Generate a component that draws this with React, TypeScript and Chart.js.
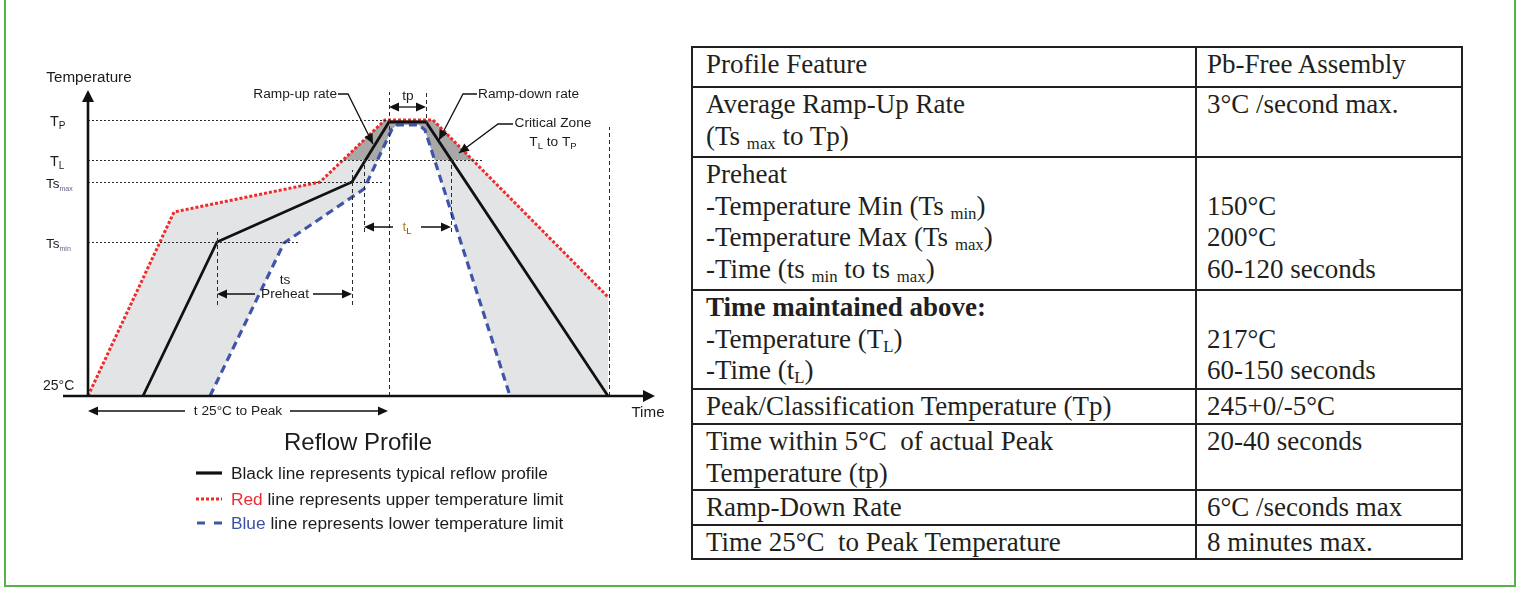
import React, { useEffect, useRef } from 'react';
import { Chart, registerables } from 'chart.js';

Chart.register(...registerables);

// ---------- diagram data (x: time units from profile start, y: temperature level units above 25°C) ----------
const typicalTime = [55, 129, 264, 301, 338, 520];
const typicalTemp = [0, 154, 214, 274, 274, 0];
const upperTime = [0, 86, 232, 297, 345, 520];
const upperTemp = [0, 184, 214, 276, 276, 99];
const lowerTime = [122, 196, 276, 304, 309, 331, 337, 422];
const lowerTemp = [0, 153, 207, 267, 271, 271, 266, 0];

// temperature levels shown on the y axis
const levelLabels = ['25°C', 'Ts', 'Ts', 'T', 'T'];
const levelSubs = ['', 'min', 'max', 'L', 'P'];
const levelTemps = [0, 154, 214, 236, 276];
const levelGuideEnds = [0, 210, 295, 394, 299];

// vertical guide lines (time, from level, to level)
const guideTimes = [129, 264, 276, 301, 338, 363, 521];
const guideFrom = [91, 91, 164, 0, 271, 164, 0];
const guideTo = [164, 226, 236, 304, 304, 236, 269];

// time spans
const preheatSpan = [129, 264];
const liquidusSpan = [276, 363];
const peakSpan = [301, 338];
const toPeakSpan = [0, 300];

const xAxisTitle = 'Time';
const yAxisTitle = 'Temperature';
const chartTitle = 'Reflow Profile';
const legendLead = ['', 'Red', 'Blue'];
const legendRest = [
  'Black line represents typical reflow profile',
  ' line represents upper temperature limit',
  ' line represents lower temperature limit',
];

// ---------- table data ----------
const featureRows = [
  ['Profile Feature'],
  ['Average Ramp-Up Rate', '(Ts _{max} to Tp)'],
  ['Preheat', '-Temperature Min (Ts _{min})', '-Temperature Max (Ts _{max})', '-Time (ts _{min} to ts _{max})'],
  ['Time maintained above:', '-Temperature (T_{L})', '-Time (t_{L})'],
  ['Peak/Classification Temperature (Tp)'],
  ['Time within 5°C  of actual Peak', 'Temperature (tp)'],
  ['Ramp-Down Rate'],
  ['Time 25°C  to Peak Temperature'],
];
const assemblyRows = [
  ['Pb-Free Assembly'],
  ['3°C /second max.'],
  ['', '150°C', '200°C', '60-120 seconds'],
  ['', '217°C', '60-150 seconds'],
  ['245+0/-5°C'],
  ['20-40 seconds'],
  ['6°C /seconds max'],
  ['8 minutes max.'],
];
const boldLines = ['Time maintained above:'];

// ---------- layout ----------
const ROW_HEIGHTS = [40, 70, 133, 99, 35, 66, 34, 34];
const INK = '#1c1c1c';
const SANS = '"Liberation Sans", Arial, sans-serif';
const SERIF = '"Liberation Serif", "Times New Roman", serif';

type Pt = { x: number; y: number };
const toPts = (xs: number[], ys: number[]): Pt[] => xs.map((x, i) => ({ x, y: ys[i] }));

function clipAbove(poly: Pt[], level: number): Pt[] {
  const out: Pt[] = [];
  for (let i = 0; i < poly.length; i++) {
    const a = poly[i];
    const b = poly[(i + 1) % poly.length];
    const ina = a.y >= level;
    const inb = b.y >= level;
    if (ina) out.push(a);
    if (ina !== inb) {
      const t = (level - a.y) / (b.y - a.y);
      out.push({ x: a.x + t * (b.x - a.x), y: level });
    }
  }
  if (out.length) out.push(out[0]);
  return out;
}

function head(ctx: CanvasRenderingContext2D, tx: number, ty: number, dx: number, dy: number, len: number, half: number) {
  const m = Math.hypot(dx, dy);
  const ux = dx / m, uy = dy / m;
  const bx = tx - ux * len, by = ty - uy * len;
  ctx.beginPath();
  ctx.moveTo(tx, ty);
  ctx.lineTo(bx - uy * half, by + ux * half);
  ctx.lineTo(bx + uy * half, by - ux * half);
  ctx.closePath();
  ctx.fill();
}

type Run = { t: string; sub?: boolean; color?: string };

function runs(ctx: CanvasRenderingContext2D, list: Run[], x: number, y: number, size: number, align: 'left' | 'center' | 'right', subSize?: number, subDy?: number) {
  const ss = subSize ?? size * 0.68;
  const sd = subDy ?? size * 0.3;
  let total = 0;
  const widths = list.map((r) => {
    ctx.font = `${r.sub ? ss : size}px ${SANS}`;
    const w = ctx.measureText(r.t).width;
    total += w;
    return w;
  });
  let cx = align === 'left' ? x : align === 'center' ? x - total / 2 : x - total;
  ctx.textAlign = 'left';
  ctx.textBaseline = 'middle';
  list.forEach((r, i) => {
    ctx.font = `${r.sub ? ss : size}px ${SANS}`;
    ctx.fillStyle = r.color || INK;
    ctx.fillText(r.t, cx, r.sub ? y + sd : y);
    cx += widths[i];
  });
}

const diagramPlugin = {
  id: 'reflowDiagram',
  afterDatasetsDraw(chart: any) {
    const ctx: CanvasRenderingContext2D = chart.ctx;
    const sx = chart.scales.x;
    const sy = chart.scales.y;
    const X = (v: number) => sx.getPixelForValue(v);
    const Y = (v: number) => sy.getPixelForValue(v);
    ctx.save();

    // horizontal dotted guides
    ctx.strokeStyle = '#2a2a2a';
    ctx.lineWidth = 1;
    ctx.setLineDash([2, 2]);
    for (let i = 1; i < levelTemps.length; i++) {
      const y = Math.round(Y(levelTemps[i])) + 0.5;
      ctx.beginPath();
      ctx.moveTo(X(0), y);
      ctx.lineTo(X(levelGuideEnds[i]), y);
      ctx.stroke();
    }
    // vertical dashed guides
    ctx.setLineDash([4, 3]);
    for (let i = 0; i < guideTimes.length; i++) {
      const x = Math.round(X(guideTimes[i])) + 0.5;
      ctx.beginPath();
      ctx.moveTo(x, Y(guideFrom[i]));
      ctx.lineTo(x, Y(guideTo[i]));
      ctx.stroke();
    }
    ctx.setLineDash([]);

    // axes with arrows
    ctx.strokeStyle = '#111';
    ctx.fillStyle = '#111';
    ctx.lineWidth = 2.6;
    const ox = X(0), oy = Y(0);
    ctx.beginPath();
    ctx.moveTo(ox, oy + 1);
    ctx.lineTo(ox, Y(296));
    ctx.stroke();
    head(ctx, ox, Y(306), 0, -1, 12, 6);
    ctx.beginPath();
    ctx.moveTo(X(-25), oy);
    ctx.lineTo(X(557), oy);
    ctx.stroke();
    head(ctx, X(567), oy, 1, 0, 12, 6);

    // span arrows
    ctx.lineWidth = 1.3;
    const span = (a: number, b: number, lvl: number, gap?: [number, number]) => {
      const y = Y(lvl);
      ctx.beginPath();
      if (gap) {
        ctx.moveTo(X(a) + 4, y); ctx.lineTo(X(gap[0]), y);
        ctx.moveTo(X(gap[1]), y); ctx.lineTo(X(b) - 4, y);
      } else {
        ctx.moveTo(X(a) + 4, y); ctx.lineTo(X(b) - 4, y);
      }
      ctx.stroke();
      head(ctx, X(a), y, -1, 0, 10, 4.5);
      head(ctx, X(b), y, 1, 0, 10, 4.5);
    };
    span(preheatSpan[0], preheatSpan[1], 102, [167, 225]);
    span(liquidusSpan[0], liquidusSpan[1], 169, [305, 333]);
    span(peakSpan[0], peakSpan[1], 289);
    span(toPeakSpan[0], toPeakSpan[1], -15, [97, 202]);

    // leader lines
    const leader = (pts: number[][]) => {
      ctx.beginPath();
      pts.forEach((p, i) => (i ? ctx.lineTo(X(p[0]), Y(p[1])) : ctx.moveTo(X(p[0]), Y(p[1]))));
      ctx.stroke();
      const n = pts.length;
      head(ctx, X(pts[n - 1][0]), Y(pts[n - 1][1]), X(pts[n - 1][0]) - X(pts[n - 2][0]), Y(pts[n - 1][1]) - Y(pts[n - 2][1]), 10, 4.5);
    };
    leader([[250, 302], [260, 302], [285, 252]]);
    leader([[389, 302], [375, 302], [351, 256]]);
    leader([[425, 272], [410, 272], [371, 243]]);

    // y labels
    for (let i = 0; i < levelTemps.length; i++) {
      const y = Y(levelTemps[i]);
      if (!levelSubs[i]) {
        runs(ctx, [{ t: levelLabels[i] }], X(-45), y - 10, 14, 'left');
      } else if (levelLabels[i] === 'Ts') {
        runs(ctx, [{ t: levelLabels[i] }, { t: levelSubs[i], sub: true, color: '#6a5d86' }], X(-42), y + 2, 13.5, 'left', 7, 5);
      } else {
        runs(ctx, [{ t: levelLabels[i] }, { t: levelSubs[i], sub: true }], X(-38), y + 2, 14.5, 'left', 10, 4);
      }
    }

    // texts
    const A = 13.7;
    runs(ctx, [{ t: yAxisTitle }], X(1), Y(318), 15.2, 'center');
    runs(ctx, [{ t: xAxisTitle }], X(560), Y(-17), 15.2, 'center');
    runs(ctx, [{ t: 'Ramp-up rate' }], X(249), Y(302), A, 'right');
    runs(ctx, [{ t: 'Ramp-down rate' }], X(390), Y(302), A, 'left');
    runs(ctx, [{ t: 'tp' }], X(320), Y(300), A, 'center');
    runs(ctx, [{ t: 'Critical Zone' }], X(465), Y(273), A, 'center');
    runs(ctx, [{ t: 'T' }, { t: 'L', sub: true }, { t: ' to T' }, { t: 'P', sub: true }], X(465), Y(254), A, 'center', 9.5, 4);
    runs(ctx, [{ t: 'ts' }], X(197), Y(116), A, 'center');
    runs(ctx, [{ t: 'Preheat' }], X(197), Y(102), A, 'center');
    runs(ctx, [{ t: 't', color: '#b8862f' }, { t: 'L', sub: true, color: '#3a56b0' }], X(319), Y(169), A, 'center', 9.5, 4);
    runs(ctx, [{ t: 't 25°C to Peak' }], X(150), Y(-15), A, 'center');

    ctx.restore();
  },
};

function Cell({ lines, left }: { lines: string[]; left: boolean }) {
  return (
    <td
      style={{
        border: '2px solid #231f20',
        padding: left ? '1px 4px 0 13px' : '1px 4px 0 10px',
        verticalAlign: 'top',
        whiteSpace: 'pre',
        overflow: 'hidden',
      }}
    >
      {lines.map((ln, i) => {
        const parts = ln.split(/_\{(.*?)\}/);
        return (
          <div key={i} style={{ height: 31.5, fontWeight: boldLines.includes(ln) ? 'bold' : 'normal' }}>
            {parts.map((p, j) =>
              j % 2 === 1 ? (
                <span key={j} style={{ fontSize: '0.62em', verticalAlign: '-0.22em', lineHeight: 0 }}>
                  {p}
                </span>
              ) : (
                <span key={j}>{p}</span>
              )
            )}
          </div>
        );
      })}
    </td>
  );
}

export default function App() {
  const ref = useRef<HTMLCanvasElement | null>(null);

  useEffect(() => {
    if (!ref.current) return;
    const band: Pt[] = [
      ...toPts(upperTime, upperTemp),
      { x: upperTime[upperTime.length - 1], y: 0 },
      ...toPts(lowerTime, lowerTemp).reverse(),
    ];
    const critical = clipAbove(band, levelTemps[3]);
    const chart = new Chart(ref.current, {
      type: 'line',
      data: {
        datasets: [
          {
            label: 'band',
            data: [...band, band[0]],
            fill: 'shape',
            backgroundColor: '#e3e4e5',
            borderWidth: 0,
            pointRadius: 0,
            order: 5,
          } as any,
          {
            label: 'critical zone',
            data: critical,
            fill: 'shape',
            backgroundColor: '#a8a8a8',
            borderWidth: 0,
            pointRadius: 0,
            order: 4,
          } as any,
          {
            label: 'lower limit',
            data: toPts(lowerTime, lowerTemp),
            borderColor: '#3f55a9',
            borderDash: [8, 5],
            borderWidth: 3.2,
            pointRadius: 0,
            fill: false,
            clip: false,
            order: 3,
          } as any,
          {
            label: 'upper limit',
            data: toPts(upperTime, upperTemp),
            borderColor: '#ef2a2a',
            borderDash: [3, 2],
            borderWidth: 3,
            pointRadius: 0,
            fill: false,
            clip: false,
            order: 2,
          } as any,
          {
            label: 'typical',
            data: toPts(typicalTime, typicalTemp),
            borderColor: '#111111',
            borderWidth: 2.8,
            pointRadius: 0,
            fill: false,
            clip: false,
            order: 1,
          } as any,
        ],
      },
      options: {
        animation: false,
        responsive: false,
        events: [],
        layout: { padding: { left: 63, right: 22, top: 90, bottom: 196 } },
        scales: {
          x: { type: 'linear', min: -25, max: 570, display: false },
          y: { type: 'linear', min: 0, max: 306, display: false },
        },
        elements: { line: { tension: 0 }, point: { radius: 0 } },
        plugins: { legend: { display: false }, tooltip: { enabled: false } },
      } as any,
      plugins: [diagramPlugin],
    });
    return () => chart.destroy();
  }, []);

  const sample = (i: number) => {
    if (i === 0) return <line x1="0" y1="5" x2="26" y2="5" stroke="#111" strokeWidth="3.2" />;
    if (i === 1) return <line x1="0" y1="5" x2="26" y2="5" stroke="#ef2a2a" strokeWidth="3.2" strokeDasharray="3 2" />;
    return <line x1="1" y1="5" x2="26" y2="5" stroke="#3f55a9" strokeWidth="3.2" strokeDasharray="8 9" />;
  };
  const leadColors = ['#1c1c1c', '#ee2a2e', '#3b50a8'];

  return (
    <div style={{ position: 'absolute', left: 0, top: 0, width: 1518, height: 592, background: '#fff', overflow: 'hidden' }}>
      <div
        style={{
          position: 'absolute',
          left: 4,
          top: -3,
          width: 1512,
          height: 590,
          border: '2px solid #58b24c',
          boxSizing: 'border-box',
        }}
      />
      <canvas ref={ref} width={680} height={592} style={{ position: 'absolute', left: 0, top: 0, width: 680, height: 592 }} />
      <div
        style={{
          position: 'absolute',
          left: 208,
          top: 428,
          width: 300,
          textAlign: 'center',
          font: `24px ${SANS}`,
          lineHeight: '28px',
          color: INK,
        }}
      >
        {chartTitle}
      </div>
      {legendRest.map((txt, i) => (
        <div
          key={i}
          style={{
            position: 'absolute',
            left: 196,
            top: [473, 499, 523][i] - 12,
            height: 24,
            display: 'flex',
            alignItems: 'center',
            font: `17.3px ${SANS}`,
            color: INK,
            whiteSpace: 'pre',
          }}
        >
          <svg width="26" height="10" style={{ marginRight: 9 }}>
            {sample(i)}
          </svg>
          <span style={{ color: leadColors[i] }}>{legendLead[i]}</span>
          <span>{txt}</span>
        </div>
      ))}
      <table
        style={{
          position: 'absolute',
          left: 691,
          top: 46,
          width: 770,
          borderCollapse: 'collapse',
          tableLayout: 'fixed',
          fontFamily: SERIF,
          fontSize: 27,
          lineHeight: '31.5px',
          color: '#231f20',
        }}
      >
        <colgroup>
          <col style={{ width: 504 }} />
          <col style={{ width: 266 }} />
        </colgroup>
        <tbody>
          {featureRows.map((row, i) => (
            <tr key={i} style={{ height: ROW_HEIGHTS[i] }}>
              <Cell lines={row} left={true} />
              <Cell lines={assemblyRows[i]} left={false} />
            </tr>
          ))}
        </tbody>
      </table>
    </div>
  );
}
